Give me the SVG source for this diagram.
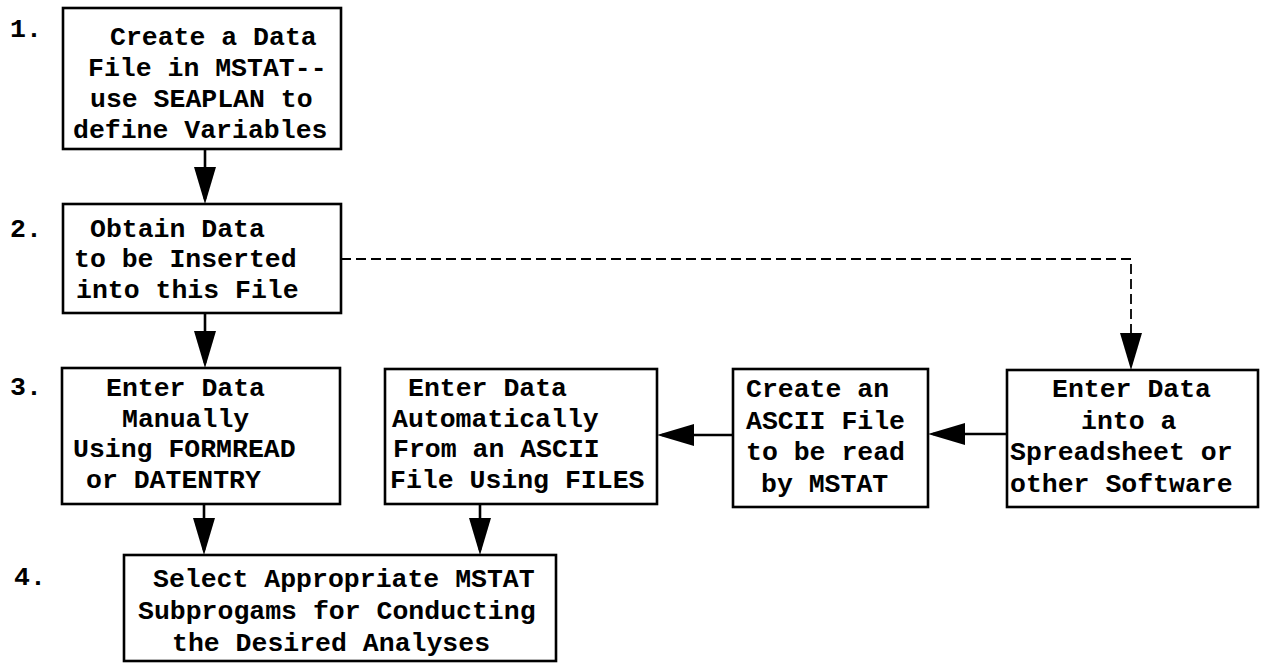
<svg xmlns="http://www.w3.org/2000/svg" width="1262" height="665" viewBox="0 0 1262 665">
<style>
.box{fill:#fff;stroke:#000;stroke-width:2.6}
.t{font-family:"Liberation Mono","DejaVu Sans Mono",monospace;font-weight:bold;font-size:26.5px;fill:#000}
.c{fill:none;stroke:#000;stroke-width:2.6}
.d{fill:none;stroke:#000;stroke-width:1.8;stroke-dasharray:10 5}
</style>
<defs>
<marker id="ah" markerUnits="userSpaceOnUse" markerWidth="37" markerHeight="22" viewBox="0 0 37 22" refX="32" refY="11" orient="auto">
<path d="M0,0 L37,11 L0,22 Z" fill="#000"/>
</marker>
</defs>
<rect width="1262" height="665" fill="#fff"/>
<g id="step-labels" class="t">
<text x="10" y="37">1.</text>
<text x="10" y="237">2.</text>
<text x="10" y="395">3.</text>
<text x="14" y="585">4.</text>
</g>
<g id="connectors">
<line class="c" x1="205" y1="149" x2="205" y2="199" marker-end="url(#ah)"/>
<line class="c" x1="205" y1="313" x2="205" y2="363" marker-end="url(#ah)"/>
<polyline class="d" points="341,259 1131,259 1131,365" marker-end="url(#ah)"/>
<line class="c" x1="1007" y1="434" x2="933" y2="434" marker-end="url(#ah)"/>
<line class="c" x1="733" y1="435" x2="662" y2="435" marker-end="url(#ah)"/>
<line class="c" x1="204" y1="504" x2="204" y2="550" marker-end="url(#ah)"/>
<line class="c" x1="480" y1="504" x2="480" y2="550" marker-end="url(#ah)"/>
</g>
<g id="n1">
<rect class="box" x="63" y="8" width="278" height="141"/>
<text class="t" x="110" y="45">Create a Data</text>
<text class="t" x="88" y="76">File in MSTAT--</text>
<text class="t" x="90" y="107">use SEAPLAN to</text>
<text class="t" x="73" y="138">define Variables</text>
</g>
<g id="n2">
<rect class="box" x="63" y="204" width="278" height="109"/>
<text class="t" x="90" y="237">Obtain Data</text>
<text class="t" x="74" y="267">to be Inserted</text>
<text class="t" x="76" y="298">into this File</text>
</g>
<g id="n3a">
<rect class="box" x="62" y="368" width="278" height="136"/>
<text class="t" x="106" y="396">Enter Data</text>
<text class="t" x="122" y="427">Manually</text>
<text class="t" x="73" y="457">Using FORMREAD</text>
<text class="t" x="86" y="488">or DATENTRY</text>
</g>
<g id="n3b">
<rect class="box" x="385" y="369" width="272" height="135"/>
<text class="t" x="408" y="396">Enter Data</text>
<text class="t" x="392" y="427">Automatically</text>
<text class="t" x="393" y="457">From an ASCII</text>
<text class="t" x="390" y="488">File Using FILES</text>
</g>
<g id="n3c">
<rect class="box" x="733" y="369" width="195" height="138"/>
<text class="t" x="746" y="397">Create an</text>
<text class="t" x="746" y="429">ASCII File</text>
<text class="t" x="746" y="460">to be read</text>
<text class="t" x="761" y="492">by MSTAT</text>
</g>
<g id="n3d">
<rect class="box" x="1007" y="370" width="251" height="137"/>
<text class="t" x="1052" y="397">Enter Data</text>
<text class="t" x="1081" y="429">into a</text>
<text class="t" x="1010" y="460">Spreadsheet or</text>
<text class="t" x="1010" y="492">other Software</text>
</g>
<g id="n4">
<rect class="box" x="124" y="555" width="432" height="106"/>
<text class="t" x="153" y="587">Select Appropriate MSTAT</text>
<text class="t" x="138" y="619">Subprogams for Conducting</text>
<text class="t" x="172" y="651">the Desired Analyses</text>
</g>
</svg>
